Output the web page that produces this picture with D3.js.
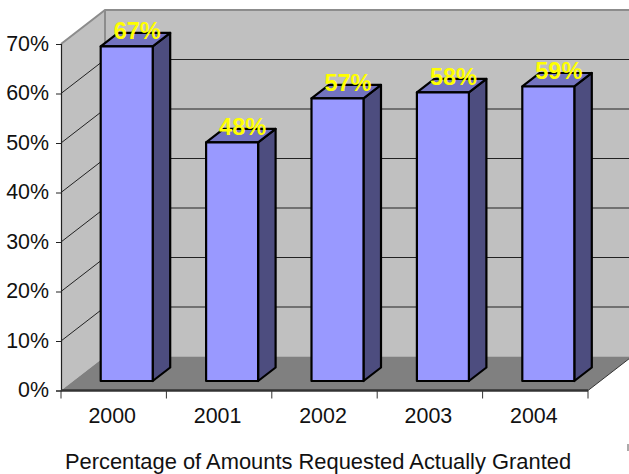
<!DOCTYPE html>
<html><head><meta charset="utf-8">
<script src="https://cdn.jsdelivr.net/npm/d3@7/dist/d3.min.js"></script>
<style>html,body{margin:0;padding:0;background:#fff}svg{display:block}text{font-family:"Liberation Sans",Arial,sans-serif}</style>
</head><body><svg id="c" width="629" height="474"></svg>
<script>
const years = ["2000","2001","2002","2003","2004"];
const values = [67.6,48.2,57.1,58.3,59.5];
const dataLabels = ["67%","48%","57%","58%","59%"];
const yTicks = [0,10,20,30,40,50,60,70];
const xTitle = "Percentage of Amounts Requested Actually Granted";

const svg = d3.select("#c");
const x = d3.scaleBand().domain(years).range([61,588]);
const y = d3.scaleLinear().domain([0,70]).range([390.5,44]);
const depth = {dx:44, dy:-34};
const barDepth = {dx:17.5, dy:-13.5};
const barShift = {dx:13, dy:-9.5};
const bw = 52;
const path = pts => "M"+pts.map(p=>p.join(",")).join("L")+"Z";
const [x0,x1] = x.range(), y0=y(0), yT=y(70);

// walls and floor
svg.append("path").attr("fill","#c0c0c0").attr("d",path([[x0+depth.dx,yT+depth.dy],[x1+depth.dx,yT+depth.dy],[x1+depth.dx,y0+depth.dy],[x0+depth.dx,y0+depth.dy]]));
svg.append("path").attr("fill","#c0c0c0").attr("d",path([[x0,yT],[x0+depth.dx,yT+depth.dy],[x0+depth.dx,y0+depth.dy],[x0,y0]]));
svg.append("path").attr("fill","#808080").attr("d",path([[x0,y0],[x0+depth.dx,y0+depth.dy],[x1+depth.dx,y0+depth.dy],[x1,y0]]));

// gridlines
const grid = svg.append("g").attr("stroke","#222").attr("stroke-width",1).attr("fill","none");
yTicks.filter(t=>t>0&&t<70).forEach(t=>{
  grid.append("polyline").attr("points",[[x0,y(t)],[x0+depth.dx,y(t)+depth.dy],[x1+depth.dx,y(t)+depth.dy]].map(p=>p.join(",")).join(" "));
});
// wall edges
svg.append("polyline").attr("fill","none").attr("stroke","#8c8c8c").attr("stroke-width",2)
  .attr("points",[[x0,yT],[x0+depth.dx,yT+depth.dy],[x1+depth.dx,yT+depth.dy]].map(p=>p.join(",")).join(" "));
svg.append("line").attr("stroke","#8c8c8c").attr("stroke-width",2)
  .attr("x1",x0+depth.dx).attr("x2",x0+depth.dx).attr("y1",yT+depth.dy).attr("y2",y0+depth.dy);
svg.append("line").attr("stroke","#333").attr("stroke-width",1)
  .attr("x1",x1).attr("y1",y0).attr("x2",x1+depth.dx).attr("y2",y0+depth.dy);

// bars
const bars = svg.append("g").selectAll("g").data(years).join("g");
const bx = d => x(d)+(x.bandwidth()-bw)/2+barShift.dx;
const bb = y0+barShift.dy;
const bt = (d,i) => bb-(y0-y(values[i]));
const st = {stroke:"#000","stroke-width":2.2,"stroke-linejoin":"round"};
const apply = (s)=>{Object.entries(st).forEach(([k,v])=>s.attr(k,v));return s;};
apply(bars.append("path")).attr("fill","#4d4d7f").attr("d",(d,i)=>path([[bx(d)+bw,bt(d,i)],[bx(d)+bw+barDepth.dx,bt(d,i)+barDepth.dy],[bx(d)+bw+barDepth.dx,bb+barDepth.dy],[bx(d)+bw,bb]]));
apply(bars.append("path")).attr("fill","#7373bf").attr("d",(d,i)=>path([[bx(d),bt(d,i)],[bx(d)+barDepth.dx,bt(d,i)+barDepth.dy],[bx(d)+bw+barDepth.dx,bt(d,i)+barDepth.dy],[bx(d)+bw,bt(d,i)]]));
apply(bars.append("rect")).attr("fill","#9999ff").attr("x",bx).attr("y",bt).attr("width",bw).attr("height",(d,i)=>bb-bt(d,i));

// axes
const yAxis = d3.axisLeft(y).tickValues(yTicks).tickSize(5).tickPadding(7).tickFormat(d=>d+"%");
const gy = svg.append("g").attr("transform",`translate(${x0},0)`).call(yAxis);
gy.selectAll("text").attr("font-size",21.4).attr("fill","#111").attr("dy","0.3em");
gy.selectAll("line,path").attr("stroke","#222");
gy.select("path").attr("stroke-width",1.2);

const xAxis = d3.axisBottom(x).tickSize(0).tickPadding(17);
const gx = svg.append("g").attr("transform",`translate(0,${y0})`).call(xAxis);
gx.select("path").remove();
gx.selectAll("text").attr("font-size",21.4).attr("fill","#111").attr("dx",-1.5);
svg.append("line").attr("x1",x0).attr("x2",x1).attr("y1",y0).attr("y2",y0).attr("stroke","#333").attr("stroke-width",2.4);
svg.append("g").selectAll("line").data(years.concat(["end"])).join("line")
  .attr("x1",d=>d==="end"?x1:x(d)).attr("x2",d=>d==="end"?x1:x(d)).attr("y1",y0).attr("y2",y0+8).attr("stroke","#333");

// data labels
svg.append("g").selectAll("text").data(years).join("text")
  .attr("x",d=>bx(d)+bw/2+10.5).attr("y",(d,i)=>bt(d,i)-7)
  .attr("text-anchor","middle").attr("font-size",23.5).attr("font-weight","bold").attr("fill","#ffff00")
  .text((d,i)=>dataLabels[i]);

svg.append("text").attr("x",318).attr("y",468.5).attr("text-anchor","middle").attr("font-size",21.9).attr("fill","#111").text(xTitle);
// clipped fragment at the right edge of the source image
svg.append("line").attr("x1",628).attr("x2",628).attr("y1",444).attr("y2",451).attr("stroke","#aaa").attr("stroke-width",2);
</script></body></html>
